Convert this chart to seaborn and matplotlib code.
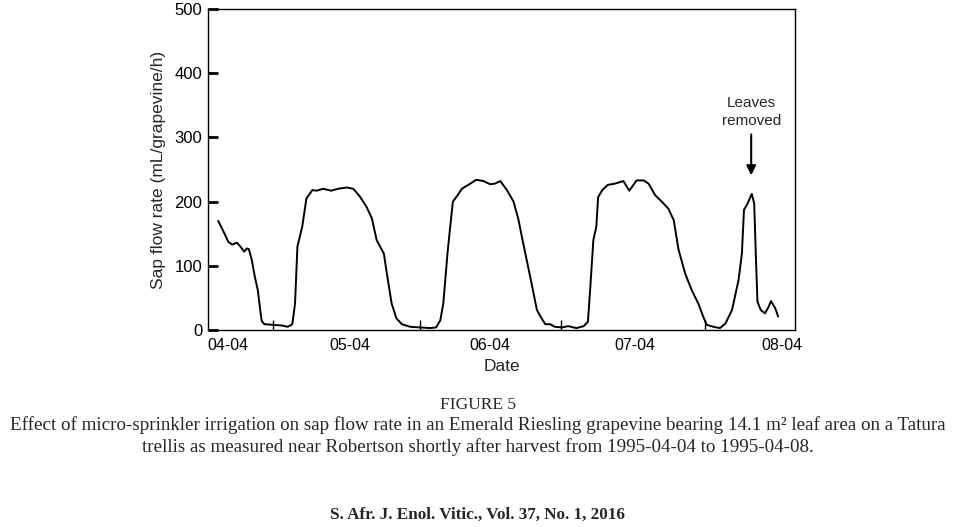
import matplotlib
matplotlib.use("Agg")
import matplotlib.pyplot as plt
import seaborn as sns
import pandas as pd

# hours since start of the record (04-04) and sap flow rate
hours = [1.7, 2.6, 3.4, 4.05, 4.8, 5.3, 6.05, 6.45, 6.8, 7.3, 7.8, 8.3, 8.7, 8.95, 9.4,
         10.9, 12.3, 13.3, 14.05, 14.5, 14.9, 15.7, 16.4, 17.4, 18.1, 19.2, 20.5, 21.7,
         23.1, 24.2, 25.3, 26.4, 27.3, 28.1, 29.3, 29.8, 30.6, 31.4, 32.3, 33.7, 35.3,
         37.0, 38.0, 38.7, 39.2, 39.9, 40.3, 40.8, 41.6, 42.3, 43.7, 44.7, 45.9, 47.0,
         47.8, 48.7, 49.8, 50.9, 51.7, 52.3, 53.1, 53.9, 54.8, 55.6, 56.2, 57.0, 57.8,
         59.0, 60.0, 61.4, 62.6, 63.3, 63.7, 64.2, 64.7, 65.0, 65.7, 66.6, 67.8, 69.2,
         70.2, 71.4, 72.6, 73.4, 74.5, 75.6, 76.7, 77.6, 78.4, 79.5, 80.6, 81.7, 82.5,
         83.1, 84.2, 85.3, 86.2, 87.3, 88.4, 88.95, 89.3, 89.9, 90.6, 91.0, 91.3, 91.55,
         92.1, 92.8, 93.4, 93.8, 94.5, 95.0]
sap_flow = [170, 153, 137, 133, 136, 131, 122, 127, 126, 109, 83, 62, 31, 14, 9,
            8, 7, 5, 9, 41, 130, 161, 205, 218, 217, 220, 217, 220,
            222, 220, 208, 192, 174, 140, 119, 88, 41, 18, 9, 5, 4,
            3, 4, 15, 41, 119, 156, 200, 210, 220, 228, 234, 232, 227,
            228, 232, 218, 200, 173, 145, 109, 73, 31, 18, 9, 9, 5,
            4, 6, 3, 6, 13, 67, 140, 161, 207, 218, 226, 228, 232,
            217, 233, 233, 228, 210, 200, 189, 171, 125, 88, 62, 41, 21,
            8, 5, 3, 10, 31, 78, 119, 187, 197, 212, 197, 109, 44,
            31, 26, 36, 45, 34, 21]

date_labels = ["04-04", "05-04", "06-04", "07-04", "08-04"]
label_pos = [3.4, 23.7, 47.0, 71.2, 95.6]
midnight_pos = [10.8, 35.3, 58.8, 82.8]
y_ticks = [0, 100, 200, 300, 400, 500]

df = pd.DataFrame({"hour": hours, "flow": sap_flow})

sns.set_style("white")
plt.rcParams["font.family"] = ["Liberation Sans", "DejaVu Sans"]

fig = plt.figure(figsize=(9.55, 5.27), dpi=100)
ax = fig.add_axes([208 / 955, 1 - 330 / 527, 587 / 955, 321 / 527])

sns.lineplot(data=df, x="hour", y="flow", ax=ax, color="black", linewidth=1.4)

ax.set_xlim(0, 97.8)
ax.set_ylim(0, 500)
ax.set_yticks(y_ticks)
ax.set_xticks(label_pos)
ax.set_xticklabels(date_labels)
ax.set_xticks(midnight_pos, minor=True)
ax.tick_params(axis="x", which="major", length=0, labelsize=11.5, pad=6, colors="black")
ax.tick_params(axis="x", which="minor", direction="in", length=7, width=1, bottom=True, color="black")
ax.tick_params(axis="y", direction="in", length=7, width=2, labelsize=12, pad=4, left=True, colors="black")
for s in ax.spines.values():
    s.set_color("black")
    s.set_linewidth(1)

ax.set_xlabel("Date", fontsize=12.5, labelpad=4)
ax.set_ylabel("Sap flow rate (mL/grapevine/h)", fontsize=12.5, labelpad=6)

ax.annotate("Leaves\nremoved", xy=(90.5, 241), xytext=(90.5, 314),
            ha="center", va="bottom", fontsize=11, linespacing=1.4,
            arrowprops=dict(arrowstyle="-|>", color="black", lw=1.5,
                            mutation_scale=14, shrinkA=2, shrinkB=0))

serif = ["Liberation Serif", "DejaVu Serif"]
fig.text(0.5, 1 - 405 / 527, "FIGURE 5", ha="center", va="center", family=serif, fontsize=12.5)
fig.text(0.5, 1 - 436 / 527,
         "Effect of micro-sprinkler irrigation on sap flow rate in an Emerald Riesling grapevine bearing 14.1 m² leaf area on a Tatura\n"
         "trellis as measured near Robertson shortly after harvest from 1995-04-04 to 1995-04-08.",
         ha="center", va="center", family=serif, fontsize=13.7, linespacing=1.3)
fig.text(0.5, 1 - 515 / 527, "S. Afr. J. Enol. Vitic., Vol. 37, No. 1, 2016",
         ha="center", va="center", family=serif, fontsize=12.3, weight="bold")

fig.savefig("out.png", dpi=100, facecolor="white")
